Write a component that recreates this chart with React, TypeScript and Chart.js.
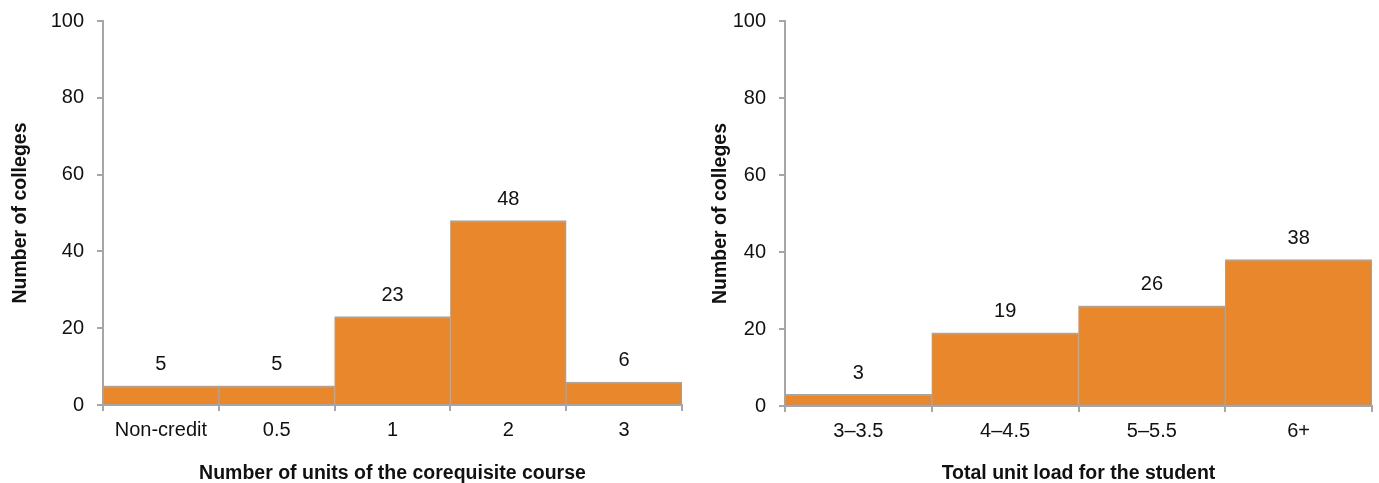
import React, { useEffect, useRef } from "react";
import { Chart, registerables } from "chart.js";

Chart.register(...registerables);

// ---- data ----
const leftCategories = ["Non-credit", "0.5", "1", "2", "3"];
const leftValues = [5, 5, 23, 48, 6];
const rightCategories = ["3–3.5", "4–4.5", "5–5.5", "6+"];
const rightValues = [3, 19, 26, 38];
const yMin = 0;
const yMax = 100;
const yStep = 20;
const yTitle = "Number of colleges";
const leftXTitle = "Number of units of the corequisite course";
const rightXTitle = "Total unit load for the student";

// ---- style ----
const FONT = '"Liberation Sans", Arial, Helvetica, sans-serif';
const BAR = "#E8872B";
const GRAY = "#A6A6A6";
const TEXT = "#111111";

const valueLabels = {
  id: "valueLabels",
  afterDatasetsDraw(chart: any) {
    const ctx = chart.ctx;
    const meta = chart.getDatasetMeta(0);
    const data = chart.data.datasets[0].data as number[];
    ctx.save();
    ctx.font = `20px ${FONT}`;
    ctx.fillStyle = TEXT;
    ctx.textAlign = "center";
    ctx.textBaseline = "alphabetic";
    meta.data.forEach((el: any, i: number) => {
      ctx.fillText(String(data[i]), el.x, el.y - 15.5);
    });
    ctx.restore();
  },
};

type PanelCfg = {
  left: number;
  width: number;
  yWidth: number;
  xHeight: number;
  padRight: number;
  padTop: number;
  yTitlePad: number;
};

function BarPanel({
  labels,
  values,
  xTitle,
  cfg,
}: {
  labels: string[];
  values: number[];
  xTitle: string;
  cfg: PanelCfg;
}) {
  const ref = useRef<HTMLCanvasElement>(null);
  useEffect(() => {
    const zeroPad = (s: any) => {
      s.paddingTop = 0;
      s.paddingBottom = 0;
      s.paddingLeft = 0;
      s.paddingRight = 0;
    };
    const chart = new Chart(ref.current!, {
      type: "bar",
      data: {
        labels,
        datasets: [
          {
            data: values,
            backgroundColor: BAR,
            borderColor: GRAY,
            borderWidth: { top: 2, left: 1, right: 1, bottom: 0 } as any,
            borderSkipped: false as any,
            barPercentage: 1,
            categoryPercentage: 1,
          },
        ],
      },
      options: {
        responsive: false,
        animation: false,
        events: [],
        layout: {
          padding: { left: 0, right: cfg.padRight, top: cfg.padTop, bottom: 0 },
        },
        plugins: {
          legend: { display: false },
          tooltip: { enabled: false },
          title: { display: false },
        },
        scales: {
          x: {
            type: "category",
            offset: true,
            grid: {
              offset: true,
              drawOnChartArea: false,
              drawTicks: true,
              tickLength: 6,
              color: GRAY,
              lineWidth: 2,
            },
            border: { display: true, color: GRAY, width: 2 },
            ticks: {
              font: { family: FONT, size: 20 },
              color: TEXT,
              padding: 7,
              autoSkip: false,
              maxRotation: 0,
            },
            title: {
              display: true,
              text: xTitle,
              font: { family: FONT, size: 19.5, weight: "bold" },
              color: TEXT,
              padding: { top: 0, bottom: -2 },
            },
            afterFit: (s: any) => {
              s.height = cfg.xHeight;
              zeroPad(s);
            },
          },
          y: {
            type: "linear",
            min: yMin,
            max: yMax,
            grid: {
              drawOnChartArea: false,
              drawTicks: true,
              tickLength: 6,
              color: GRAY,
              lineWidth: 2,
            },
            border: { display: true, color: GRAY, width: 2 },
            ticks: {
              stepSize: yStep,
              font: { family: FONT, size: 20 },
              color: TEXT,
              padding: 13,
            },
            title: {
              display: true,
              text: yTitle,
              font: { family: FONT, size: 19.5, weight: "bold" },
              color: TEXT,
              padding: { top: cfg.yTitlePad, bottom: 0 },
            },
            afterFit: (s: any) => {
              s.width = cfg.yWidth;
              zeroPad(s);
            },
          },
        },
      },
      plugins: [valueLabels],
    });
    return () => chart.destroy();
  }, []);
  return (
    <canvas
      ref={ref}
      width={cfg.width}
      height={483}
      style={{
        position: "absolute",
        left: cfg.left,
        top: 0,
        width: cfg.width,
        height: 483,
        display: "block",
      }}
    />
  );
}

export default function App() {
  return (
    <div
      style={{
        position: "absolute",
        left: 0,
        top: 0,
        width: 1379,
        height: 483,
        background: "#ffffff",
        overflow: "hidden",
      }}
    >
      <BarPanel
        labels={leftCategories}
        values={leftValues}
        xTitle={leftXTitle}
        cfg={{
          left: 0,
          width: 690,
          yWidth: 103,
          xHeight: 78,
          padRight: 8,
          padTop: 21,
          yTitlePad: 9,
        }}
      />
      <BarPanel
        labels={rightCategories}
        values={rightValues}
        xTitle={rightXTitle}
        cfg={{
          left: 690,
          width: 689,
          yWidth: 95,
          xHeight: 77,
          padRight: 7,
          padTop: 21,
          yTitlePad: 19,
        }}
      />
    </div>
  );
}
